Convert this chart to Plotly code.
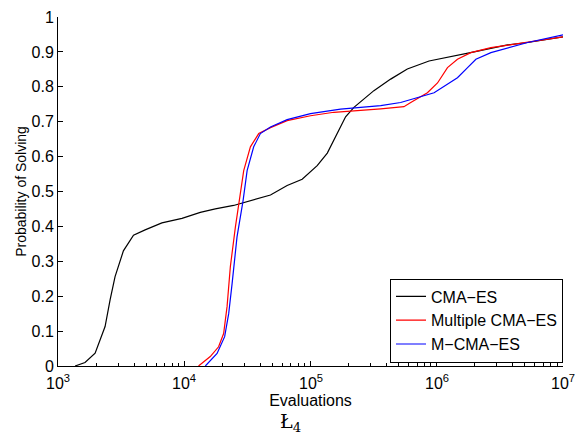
import plotly.graph_objects as go

# Evaluations (x) and probability of solving (y) for each algorithm
cma_es_x = [1365, 1637, 1968, 2360, 2588, 2831, 3296, 3963, 4898, 6653, 9594,
            13397, 17620, 24604, 48195, 65313, 85901, 112980, 135831, 162926,
            189671, 220800, 317687, 431519, 584790, 868960, 1216186, 1976970,
            3639150, 5248075, 10000000]
cma_es_y = [0.0, 0.01, 0.037, 0.113, 0.19, 0.256, 0.33, 0.375, 0.39, 0.41, 0.423,
            0.44, 0.45, 0.46, 0.49, 0.517, 0.535, 0.574, 0.61, 0.666,
            0.714, 0.741, 0.789, 0.822, 0.851, 0.874, 0.884, 0.90,
            0.92, 0.927, 0.943]

multi_x = [12972, 16069, 18707, 20512, 21827, 23174, 25410, 26977, 29580, 33420,
           38905, 48195, 65313, 100000, 153109, 359749, 549541, 622300, 843335,
           1013911, 1216186, 1458814, 1862087, 2685344, 4931738, 10000000]
multi_y = [0.0, 0.027, 0.055, 0.093, 0.17, 0.284, 0.398, 0.465, 0.56, 0.628,
           0.666, 0.683, 0.703, 0.717, 0.727, 0.737, 0.743, 0.755, 0.783,
           0.811, 0.855, 0.879, 0.898, 0.912, 0.927, 0.943]

mcma_x = [14689, 18197, 20893, 22491, 23933, 26182, 29242, 31477, 35481, 40087,
          48195, 65313, 100000, 172982, 359749, 517607, 952796, 1216186, 1458814,
          1753881, 2041738, 2685344, 3639150, 5248075, 10000000]
mcma_y = [0.0, 0.036, 0.084, 0.15, 0.236, 0.37, 0.474, 0.56, 0.628, 0.666,
          0.685, 0.706, 0.723, 0.736, 0.746, 0.755, 0.783, 0.807, 0.826,
          0.855, 0.879, 0.898, 0.912, 0.927, 0.949]

series_names = ["CMA\u2212ES", "Multiple CMA\u2212ES", "M\u2212CMA\u2212ES"]
series_colors = ["black", "red", "blue"]

x_tick_exponents = [3, 4, 5, 6, 7]
x_ticktext = ["10<sup>3</sup>", "10<sup>4</sup>", "10<sup>5</sup>", "10<sup>6</sup>", "10<sup>7</sup>"]
x_minor_tickvals = [m * 10 ** e for e in [3, 4, 5, 6] for m in range(2, 10)]
y_tickvals = [0, 0.1, 0.2, 0.3, 0.4, 0.5, 0.6, 0.7, 0.8, 0.9, 1]
y_ticktext = ["0", "0.1", "0.2", "0.3", "0.4", "0.5", "0.6", "0.7", "0.8", "0.9", "1"]

FONT = "Liberation Sans, Arial, Helvetica, sans-serif"

fig = go.Figure()
for xs, ys, name, col in zip([cma_es_x, multi_x, mcma_x], [cma_es_y, multi_y, mcma_y],
                             series_names, series_colors):
    fig.add_trace(go.Scatter(x=xs, y=ys, mode="lines", name=name,
                             line=dict(color=col, width=1.2)))

fig.update_layout(
    width=575, height=445,
    margin=dict(l=58, r=12, t=17, b=79),
    paper_bgcolor="white", plot_bgcolor="white",
    font=dict(family=FONT, size=16, color="black"),
    showlegend=True,
    legend=dict(x=1, y=0.01, xanchor="right", yanchor="bottom",
                bordercolor="black", borderwidth=1, bgcolor="white",
                font=dict(size=16), tracegroupgap=0,
                itemwidth=30),
    xaxis=dict(type="log", range=[3, 7], showgrid=False, zeroline=False,
               automargin=False,
               showline=True, linecolor="black", linewidth=1,
               ticks="inside", ticklen=5, tickcolor="black",
               tickvals=[10 ** e for e in x_tick_exponents],
               ticktext=[""] * len(x_tick_exponents),
               minor=dict(tickmode="array", tickvals=x_minor_tickvals,
                          ticks="inside", ticklen=3, tickcolor="black", showgrid=False),
               title=dict(text="Evaluations", font=dict(size=16), standoff=25)),
    yaxis=dict(range=[0, 1], showgrid=False, zeroline=False,
               automargin=False,
               showline=True, linecolor="black", linewidth=1,
               ticks="inside", ticklen=5, tickcolor="black",
               tickvals=y_tickvals, ticktext=y_ticktext,
               title=dict(text="Probability of Solving", font=dict(size=14), standoff=1)),
)

# x tick labels as annotations (so the 10^7 label at the edge is kept)
for e, txt in zip(x_tick_exponents, x_ticktext):
    fig.add_annotation(text=txt, x=e, xref="x", y=0, yref="paper",
                       xanchor="center", yanchor="top", yshift=-4,
                       showarrow=False, font=dict(family=FONT, size=16, color="black"))

fig.add_annotation(text="\u0141<sub>4</sub>", xref="paper", yref="paper",
                   x=0.46, y=-0.163, xanchor="center", yanchor="middle",
                   showarrow=False,
                   font=dict(family="DejaVu Serif, Liberation Serif, serif", size=19, color="black"))

fig.write_html("out.html")
